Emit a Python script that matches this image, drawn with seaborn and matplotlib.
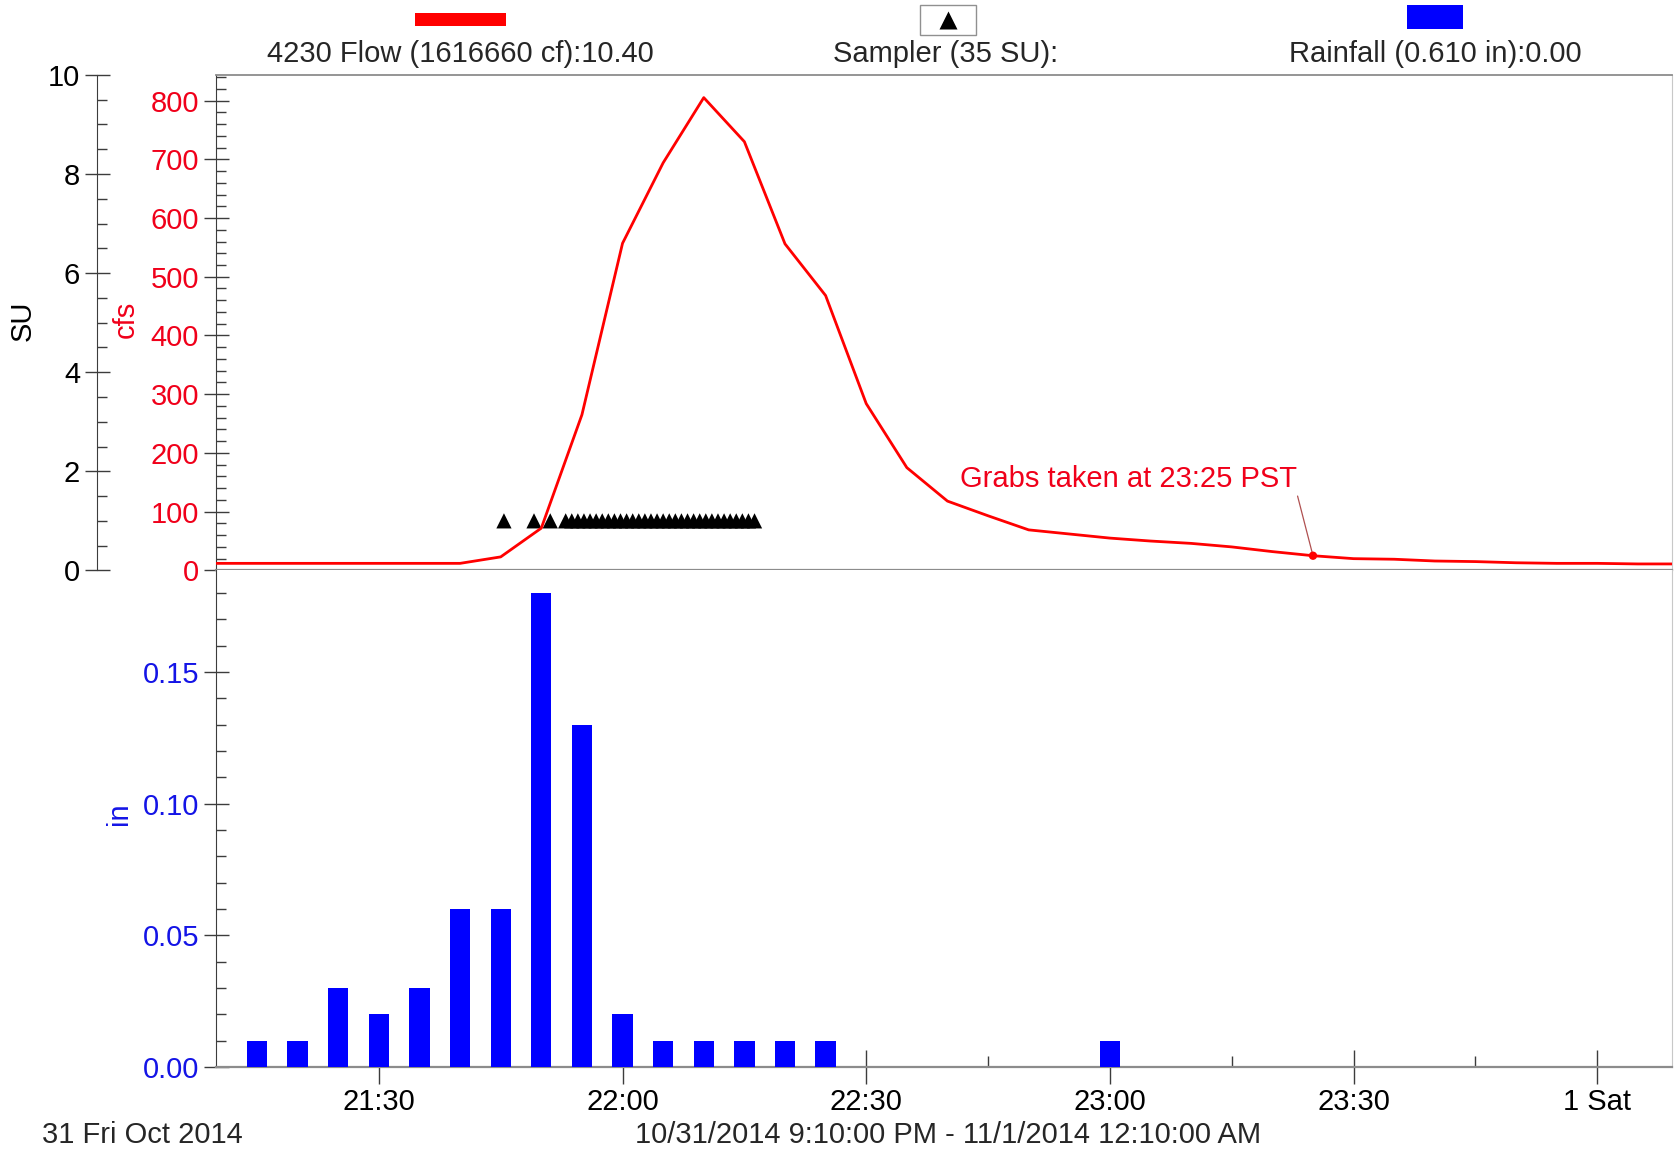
import matplotlib
matplotlib.use("Agg")
import matplotlib.pyplot as plt
from matplotlib.ticker import MultipleLocator, FixedLocator, FormatStrFormatter
from matplotlib.patches import Rectangle
from matplotlib.lines import Line2D
import pandas as pd
import seaborn as sns

# ---------------------------------------------------------------- data
flow_times = ["21:10", "21:15", "21:20", "21:25", "21:30", "21:35", "21:40",
              "21:45", "21:50", "21:55", "22:00", "22:05", "22:10", "22:15",
              "22:20", "22:25", "22:30", "22:35", "22:40", "22:45", "22:50",
              "22:55", "23:00", "23:05", "23:10", "23:15", "23:20", "23:25",
              "23:30", "23:35", "23:40", "23:45", "23:50", "23:55", "00:00",
              "00:05", "00:10"]
flow_cfs = [12, 12, 12, 12, 12, 12, 12,
            23, 72, 265, 557, 694, 805, 730,
            556, 468, 284, 175, 118, 93, 69,
            62, 55, 50, 46, 40, 32, 25,
            20, 19, 16, 15, 13, 12, 12,
            11, 11]

rain_times = ["21:15", "21:20", "21:25", "21:30", "21:35", "21:40", "21:45",
              "21:50", "21:55", "22:00", "22:05", "22:10", "22:15", "22:20",
              "22:25", "23:00"]
rain_in = [0.01, 0.01, 0.03, 0.02, 0.03, 0.06, 0.06,
           0.18, 0.13, 0.02, 0.01, 0.01, 0.01, 0.01,
           0.01, 0.01]

sampler_times = ["21:45:24", "21:49:06", "21:51:06",
                 "21:53:00", "21:53:45", "21:54:30", "21:55:15", "21:56:00",
                 "21:56:45", "21:57:30", "21:58:15", "21:59:00", "21:59:45",
                 "22:00:30", "22:01:15", "22:02:00", "22:02:45", "22:03:30",
                 "22:04:15", "22:05:00", "22:05:45", "22:06:30", "22:07:15",
                 "22:08:00", "22:08:45", "22:09:30", "22:10:15", "22:11:00",
                 "22:11:45", "22:12:30", "22:13:15", "22:14:00", "22:14:45",
                 "22:15:30", "22:16:15"]
sampler_level = 1.0  # SU

grab_time = "23:25"

x_tick_minutes = [30, 60, 90, 120, 150, 180]
x_tick_labels = ["21:30", "22:00", "22:30", "23:00", "23:30", "1 Sat"]
x_minor_minutes = [15, 45, 75, 105, 135, 165]

header_flow = "4230 Flow (1616660 cf):10.40"
header_sampler = "Sampler (35 SU):"
header_rain = "Rainfall (0.610 in):0.00"


def minutes_after_21(t):
    """Clock time 'HH:MM[:SS]' -> minutes after 21:00 (midnight rolls over)."""
    parts = [int(p) for p in t.split(":")]
    h, m = parts[0], parts[1]
    s = parts[2] if len(parts) > 2 else 0
    if h < 12:
        h += 24
    return (h - 21) * 60 + m + s / 60.0


flow_df = pd.DataFrame({"t": [minutes_after_21(t) for t in flow_times],
                        "cfs": flow_cfs})
rain_df = pd.DataFrame({"t": [minutes_after_21(t) for t in rain_times],
                        "inch": rain_in})
samp_df = pd.DataFrame({"t": [minutes_after_21(t) for t in sampler_times]})
samp_df["su"] = sampler_level
grab_df = flow_df[flow_df["t"] == minutes_after_21(grab_time)]

# ---------------------------------------------------------------- style
sns.set_style("white")
plt.rcParams["font.family"] = ["Liberation Sans", "DejaVu Sans"]
FS = 21
RED = "#ff0000"
RED_TXT = "#f0001a"
BLUE = "#0000ff"
BLUE_TXT = "#1414e6"
SPINE = "#3c3c3c"
FRAME = "#8c8c8c"

W, H = 1678, 1154
fig = plt.figure(figsize=(W / 100, H / 100), dpi=100)
fig.patch.set_facecolor("white")

x_left, x_right = 216.4, 1672.0
y_top, y_mid, y_bot = 74.9, 570.4, 1067.0
ax_q = fig.add_axes([x_left / W, 1 - y_mid / H, (x_right - x_left) / W,
                     (y_mid - y_top) / H])
ax_r = fig.add_axes([x_left / W, 1 - y_bot / H, (x_right - x_left) / W,
                     (y_bot - y_mid) / H])
ax_su = ax_q.twinx()

XLIM = (10, 189.2)

# ---------------------------------------------------------------- flow panel
sns.lineplot(data=flow_df, x="t", y="cfs", ax=ax_q, color=RED, lw=2.0,
             estimator=None, sort=False, zorder=3)
sns.scatterplot(data=grab_df, x="t", y="cfs", ax=ax_q, color=RED, s=36,
                edgecolor="none", zorder=4)
grab_row = grab_df.iloc[0]
ax_q.annotate("Grabs taken at 23:25 PST", xy=(grab_row["t"], grab_row["cfs"]),
              xytext=(143.0, 156), textcoords="data", ha="right", va="center",
              color=RED_TXT, fontsize=FS,
              arrowprops=dict(arrowstyle="-", color="#b05050", lw=0.9,
                              relpos=(1.0, 0.0), shrinkA=0, shrinkB=0))

ax_q.set_xlim(*XLIM)
ax_q.set_ylim(0, 843.7)
ax_q.set_xlabel("")
ax_q.set_ylabel("cfs", color=RED_TXT, fontsize=FS)
ax_q.yaxis.set_label_coords(-0.0525, 0.507)
ax_q.yaxis.set_major_locator(FixedLocator([0, 100, 200, 300, 400, 500, 600, 700, 800]))
ax_q.yaxis.set_minor_locator(MultipleLocator(20))
ax_q.tick_params(axis="y", which="major", left=True, direction="inout", length=18,
                 width=1, color=SPINE, labelcolor=RED_TXT, labelsize=FS, pad=3.5)
ax_q.tick_params(axis="y", which="minor", left=True, direction="in", length=7,
                 width=1, color=SPINE)
ax_q.tick_params(axis="x", which="both", bottom=False, labelbottom=False)
ax_q.spines["left"].set_color(SPINE)
ax_q.spines["top"].set_color(FRAME)
ax_q.spines["top"].set_linewidth(1.3)
ax_q.spines["bottom"].set_color(FRAME)
ax_q.spines["bottom"].set_linewidth(1.6)
ax_q.spines["right"].set_color("#c8c8c8")
ax_q.grid(False)

# sampler triangles on the SU axis, behind the flow line
sns.scatterplot(data=samp_df, x="t", y="su", ax=ax_su, marker="^", s=120,
                color="black", edgecolor="none", zorder=2)
ax_su.set_zorder(ax_q.get_zorder() - 1)
ax_q.patch.set_visible(False)
ax_su.set_xlim(*XLIM)
ax_su.set_ylim(0, 10)
ax_su.yaxis.set_ticks_position("left")
ax_su.yaxis.set_label_position("left")
ax_su.spines["left"].set_position(("axes", (96.7 - x_left) / (x_right - x_left)))
ax_su.spines["left"].set_visible(True)
ax_su.spines["left"].set_color(SPINE)
for side in ("right", "top", "bottom"):
    ax_su.spines[side].set_visible(False)
ax_su.yaxis.set_major_locator(MultipleLocator(2))
ax_su.yaxis.set_minor_locator(MultipleLocator(0.5))
ax_su.tick_params(axis="y", which="major", left=True, direction="inout", length=18,
                  width=1, color=SPINE, labelcolor="black", labelsize=FS, pad=3)
ax_su.tick_params(axis="y", which="minor", left=True, direction="in", length=7,
                  width=1, color=SPINE)
ax_su.tick_params(axis="x", which="both", bottom=False, top=False,
                  labelbottom=False, labeltop=False)
ax_su.set_xlabel("")
ax_su.set_ylabel("SU", color="black", fontsize=FS)
ax_su.yaxis.set_label_coords(-0.1232, 0.503)
ax_su.grid(False)

# ---------------------------------------------------------------- rain panel
sns.barplot(data=rain_df, x="t", y="inch", ax=ax_r, native_scale=True,
            width=0.5, color=BLUE, saturation=1, errorbar=None, linewidth=0,
            zorder=3)
ax_r.set_axisbelow(True)
ax_r.set_xlim(*XLIM)
ax_r.set_ylim(0, 0.1886)
ax_r.set_xlabel("")
ax_r.set_ylabel("in", color=BLUE_TXT, fontsize=FS)
ax_r.yaxis.set_label_coords(-0.0573, 0.511)
ax_r.yaxis.set_major_locator(FixedLocator([0.0, 0.05, 0.10, 0.15]))
ax_r.yaxis.set_minor_locator(MultipleLocator(0.01))
ax_r.yaxis.set_major_formatter(FormatStrFormatter("%.2f"))
ax_r.tick_params(axis="y", which="major", left=True, direction="inout", length=18,
                 width=1, color=SPINE, labelcolor=BLUE_TXT, labelsize=FS, pad=3.5)
ax_r.tick_params(axis="y", which="minor", left=True, direction="in", length=7,
                 width=1, color=SPINE)
ax_r.xaxis.set_major_locator(FixedLocator(x_tick_minutes))
ax_r.xaxis.set_major_formatter(plt.FixedFormatter(x_tick_labels))
ax_r.xaxis.set_minor_locator(FixedLocator(x_minor_minutes))
ax_r.tick_params(axis="x", which="major", bottom=True, direction="inout", length=24,
                 width=1, color=SPINE, labelcolor="black", labelsize=FS, pad=3)
ax_r.tick_params(axis="x", which="minor", bottom=True, direction="in", length=8,
                 width=1, color=SPINE)
ax_r.spines["left"].set_color(SPINE)
ax_r.spines["top"].set_visible(False)
ax_r.spines["bottom"].set_color(FRAME)
ax_r.spines["bottom"].set_linewidth(1.6)
ax_r.spines["right"].set_color("#c8c8c8")
ax_r.grid(False)

# ---------------------------------------------------------------- header keys
def fx(px):
    return px / W


def fy(py):
    return 1 - py / H


fig.text(fx(460), fy(54), header_flow, ha="center", va="center", fontsize=FS)
fig.text(fx(946), fy(54), header_sampler, ha="center", va="center", fontsize=FS)
fig.text(fx(1435), fy(54), header_rain, ha="center", va="center", fontsize=FS)

fig.add_artist(Rectangle((fx(415), fy(26)), fx(91), 13 / H, transform=fig.transFigure,
                         facecolor=RED, edgecolor="none"))
fig.add_artist(Rectangle((fx(920), fy(35)), fx(56), 30 / H, transform=fig.transFigure,
                         facecolor="white", edgecolor="#909090", lw=1))
fig.add_artist(Line2D([fx(948)], [fy(20)], marker="^", markersize=13, color="black",
                      markeredgecolor="none", linestyle="none",
                      transform=fig.transFigure))
fig.add_artist(Rectangle((fx(1407), fy(29)), fx(56), 24 / H, transform=fig.transFigure,
                         facecolor=BLUE, edgecolor="none"))

# ---------------------------------------------------------------- footer
fig.text(fx(142), fy(1135), "31 Fri Oct 2014", ha="center", va="center", fontsize=FS)
fig.text(fx(948), fy(1135), "10/31/2014 9:10:00 PM - 11/1/2014 12:10:00 AM",
         ha="center", va="center", fontsize=FS)

fig.savefig("out.png", dpi=100, facecolor="white")
